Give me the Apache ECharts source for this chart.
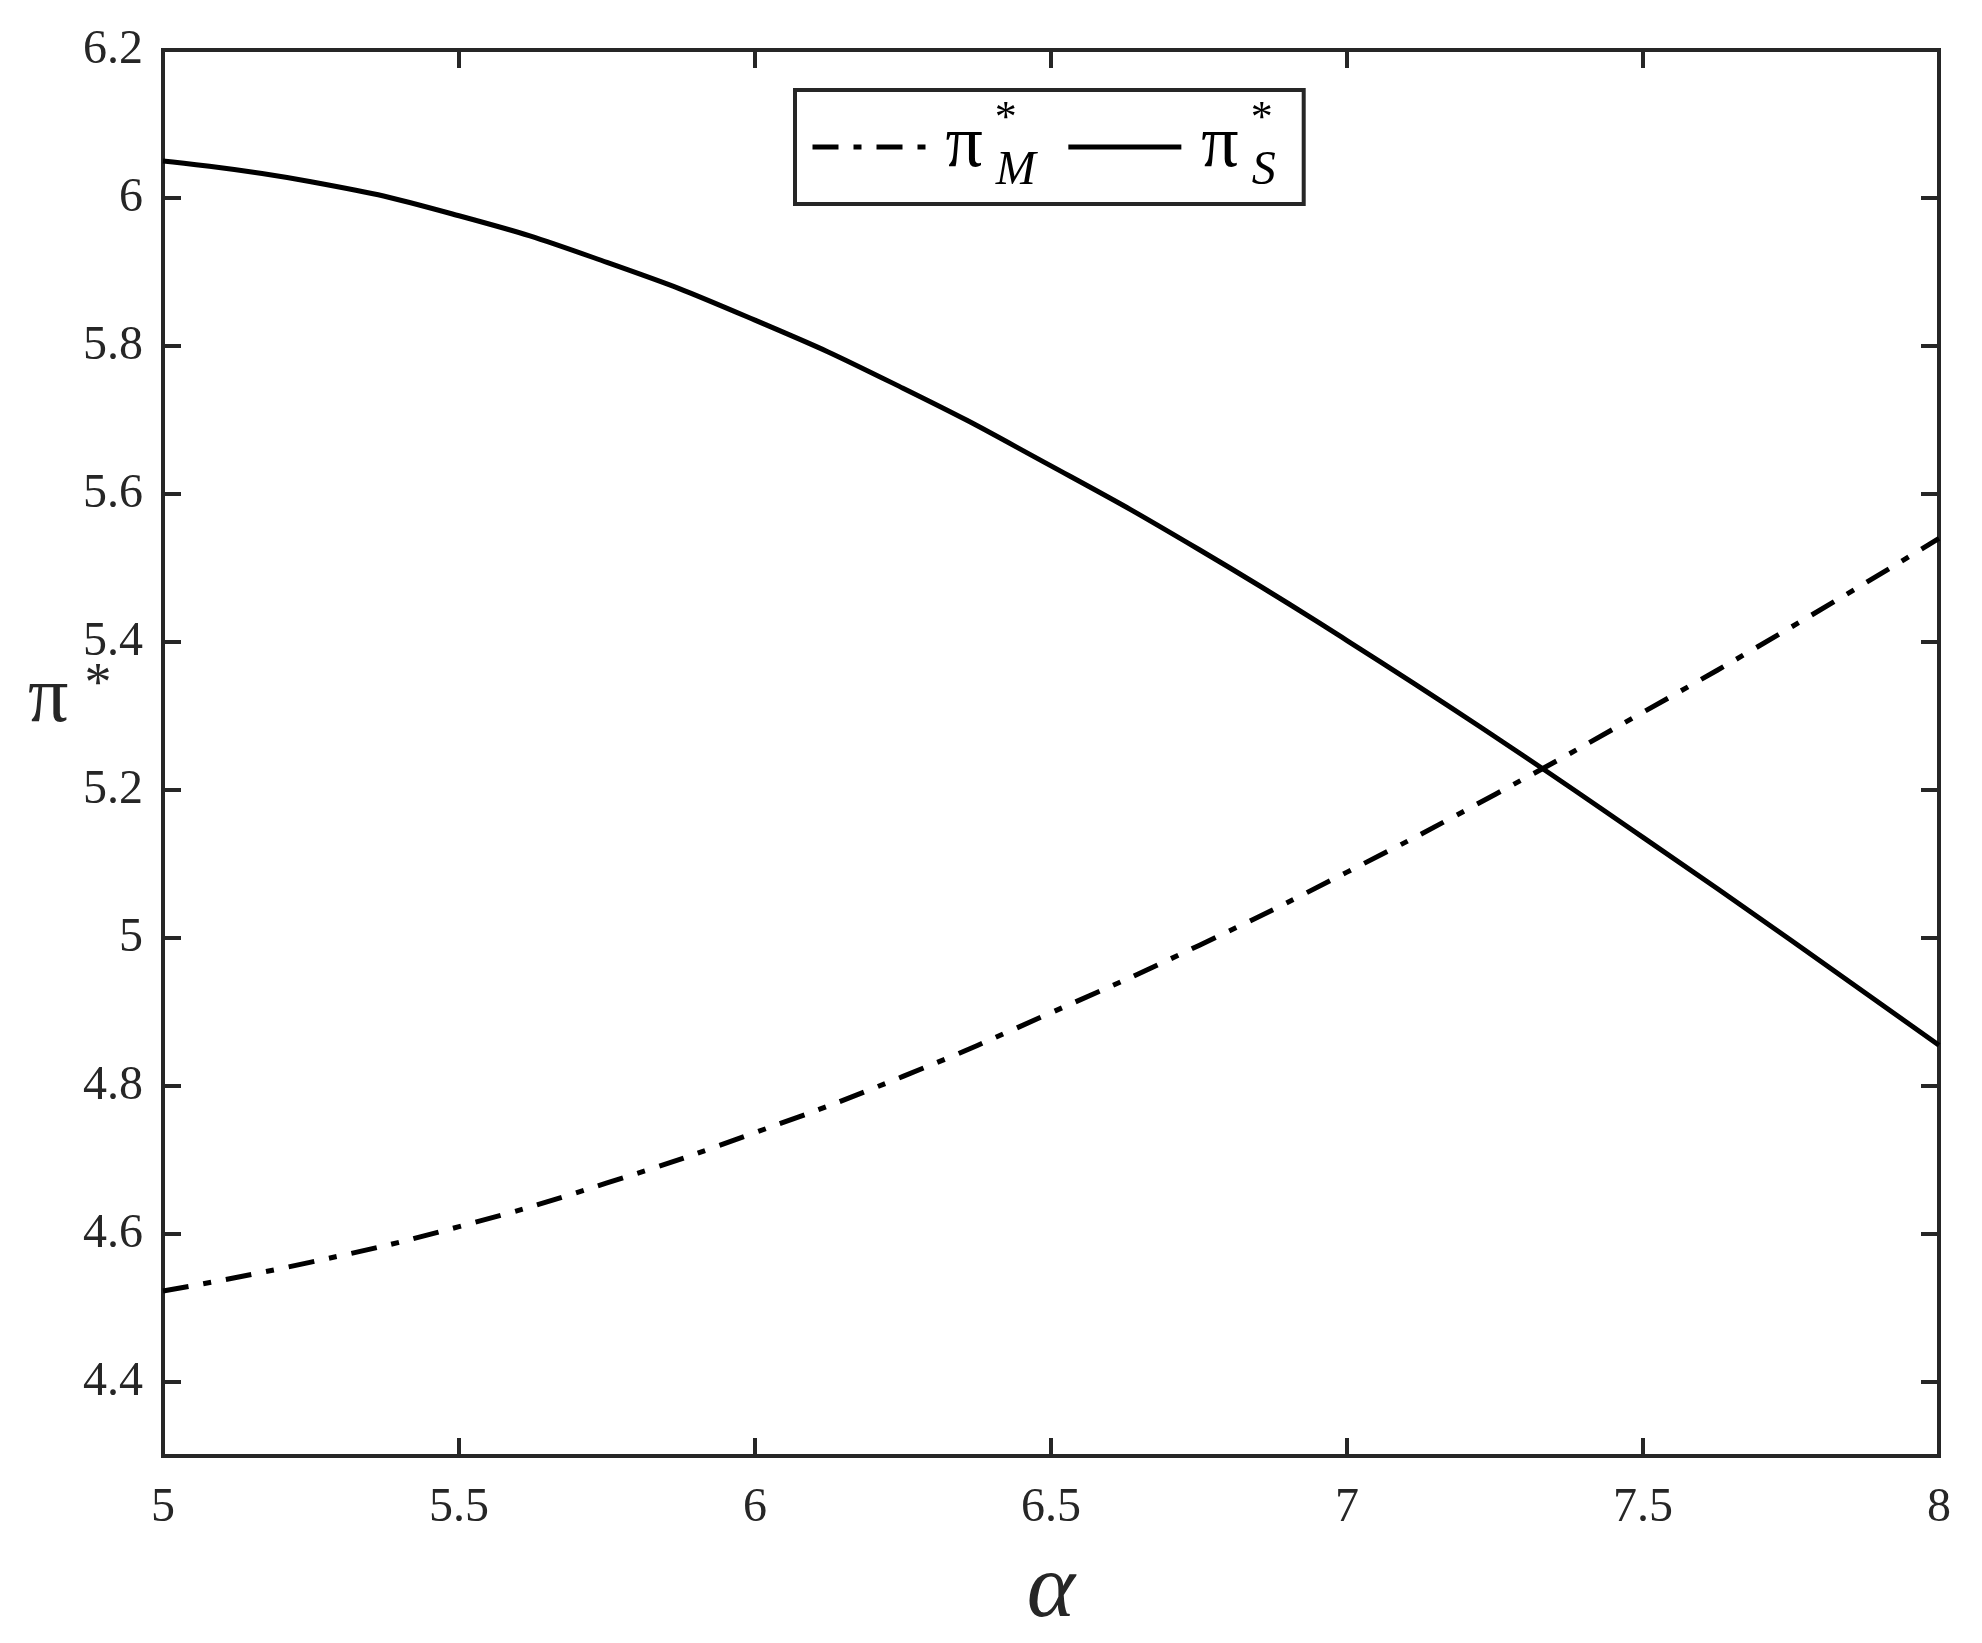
<!DOCTYPE html>
<html>
<head>
<meta charset="utf-8">
<script src="https://cdn.jsdelivr.net/npm/echarts@6/dist/echarts.min.js"></script>
<style>
html,body{margin:0;padding:0;background:#fff;}
#chart{width:1982px;height:1643px;}
</style>
</head>
<body>
<div id="chart"></div>
<script>
// ---- data ----
const alphaValues = [5, 5.25, 5.5, 5.75, 6, 6.25, 6.5, 6.75, 7, 7.25, 7.5, 7.75, 8];
const piM = [4.523, 4.562, 4.610, 4.669, 4.737, 4.813, 4.899, 4.990, 5.089, 5.194, 5.305, 5.420, 5.540];
const piS = [6.050, 6.022, 5.976, 5.913, 5.835, 5.743, 5.638, 5.525, 5.402, 5.272, 5.136, 4.997, 4.855];
const xTicks = [5, 5.5, 6, 6.5, 7, 7.5, 8];
const yTicks = [4.4, 4.6, 4.8, 5.0, 5.2, 5.4, 5.6, 5.8, 6.0, 6.2];
const seriesNames = ['piM', 'piS'];

const AX = '#262626';
const FONT = '"Liberation Serif", "DejaVu Serif", serif';
const fmt = v => String(+(+v).toFixed(1));
const DASHDOT = [26, 15, 8, 15];

const chart = echarts.init(document.getElementById('chart'), null, {renderer: 'canvas'});

const tickStyle = {show: true, inside: true, length: 18, lineStyle: {color: AX, width: 4}};

const option = {
  backgroundColor: '#fff',
  animation: false,
  grid: {
    left: 163, right: 43, top: 50, bottom: 186,
    show: true, borderColor: AX, borderWidth: 4, backgroundColor: 'transparent'
  },
  legend: {
    data: [
      {name: 'piM', lineStyle: {type: DASHDOT, width: 5, color: '#000'}},
      {name: 'piS', lineStyle: {type: 'solid', width: 5, color: '#000'}}
    ],
    left: 795, top: 90,
    orient: 'horizontal',
    itemWidth: 113, itemHeight: 20, itemGap: 30,
    padding: [7, 28, 7, 15],
    borderColor: AX, borderWidth: 4,
    backgroundColor: '#fff',
    selectedMode: false,
    itemStyle: {opacity: 0},
    lineStyle: {width: 5},
    formatter: function (name) {
      const sub = name === 'piM' ? 'M' : 'S';
      return '{p|π}{s|*}{m|' + sub + '}';
    },
    textStyle: {
      fontFamily: FONT, color: '#000',
      rich: {
        p: {fontFamily: FONT, fontSize: 74, lineHeight: 72, padding: [0, 0, 0, 15], color: '#000', verticalAlign: 'middle'},
        s: {fontFamily: FONT, fontSize: 44, lineHeight: 20, width: 1, align: 'left', padding: [0, 0, 56, 12], color: '#000', verticalAlign: 'middle'},
        m: {fontFamily: FONT, fontStyle: 'italic', fontSize: 48, lineHeight: 30, padding: [48, 0, 0, 0], color: '#000', verticalAlign: 'middle'}
      }
    }
  },
  xAxis: [
    {
      type: 'value', min: 5, max: 8, interval: 0.5, position: 'bottom',
      axisLine: {show: false},
      axisTick: tickStyle,
      splitLine: {show: false},
      axisLabel: {show: true, margin: 28, color: AX, fontFamily: FONT, fontSize: 48, formatter: fmt},
      name: 'α', nameLocation: 'middle', nameGap: 90,
      nameTextStyle: {fontFamily: FONT, fontStyle: 'italic', fontSize: 92, color: AX}
    },
    {
      type: 'value', min: 5, max: 8, interval: 0.5, position: 'top',
      axisLine: {show: false}, axisTick: tickStyle, splitLine: {show: false},
      axisLabel: {show: false}
    }
  ],
  yAxis: [
    {
      type: 'value', min: 4.3, max: 6.2, position: 'left',
      axisLine: {show: false},
      axisTick: Object.assign({}, tickStyle, {customValues: yTicks}),
      splitLine: {show: false},
      axisLabel: {show: true, margin: 20, color: AX, fontFamily: FONT, fontSize: 48, formatter: fmt, customValues: yTicks}
    },
    {
      type: 'value', min: 4.3, max: 6.2, position: 'right',
      axisLine: {show: false},
      axisTick: Object.assign({}, tickStyle, {customValues: yTicks}),
      splitLine: {show: false},
      axisLabel: {show: false, customValues: yTicks}
    }
  ],
  graphic: [
    {
      type: 'text', left: 28, top: 659, z: 10,
      style: {
        text: '{p|π}{s|*}',
        rich: {
          p: {fontFamily: FONT, fontSize: 80, fill: AX, verticalAlign: 'bottom', lineHeight: 84},
          s: {fontFamily: FONT, fontSize: 54, fill: AX, verticalAlign: 'bottom', lineHeight: 84, padding: [0, 0, 27, 16]}
        }
      }
    }
  ],
  series: [
    {
      name: 'piM', type: 'line', xAxisIndex: 0, yAxisIndex: 0,
      data: alphaValues.map((a, i) => [a, piM[i]]),
      smooth: true, symbol: 'none',
      itemStyle: {color: '#000'},
      lineStyle: {color: '#000', width: 5, type: DASHDOT, cap: 'butt'}
    },
    {
      name: 'piS', type: 'line', xAxisIndex: 0, yAxisIndex: 0,
      data: alphaValues.map((a, i) => [a, piS[i]]),
      smooth: true, symbol: 'none',
      itemStyle: {color: '#000'},
      lineStyle: {color: '#000', width: 5, type: 'solid'}
    }
  ]
};
chart.setOption(option);
</script>
</body>
</html>
